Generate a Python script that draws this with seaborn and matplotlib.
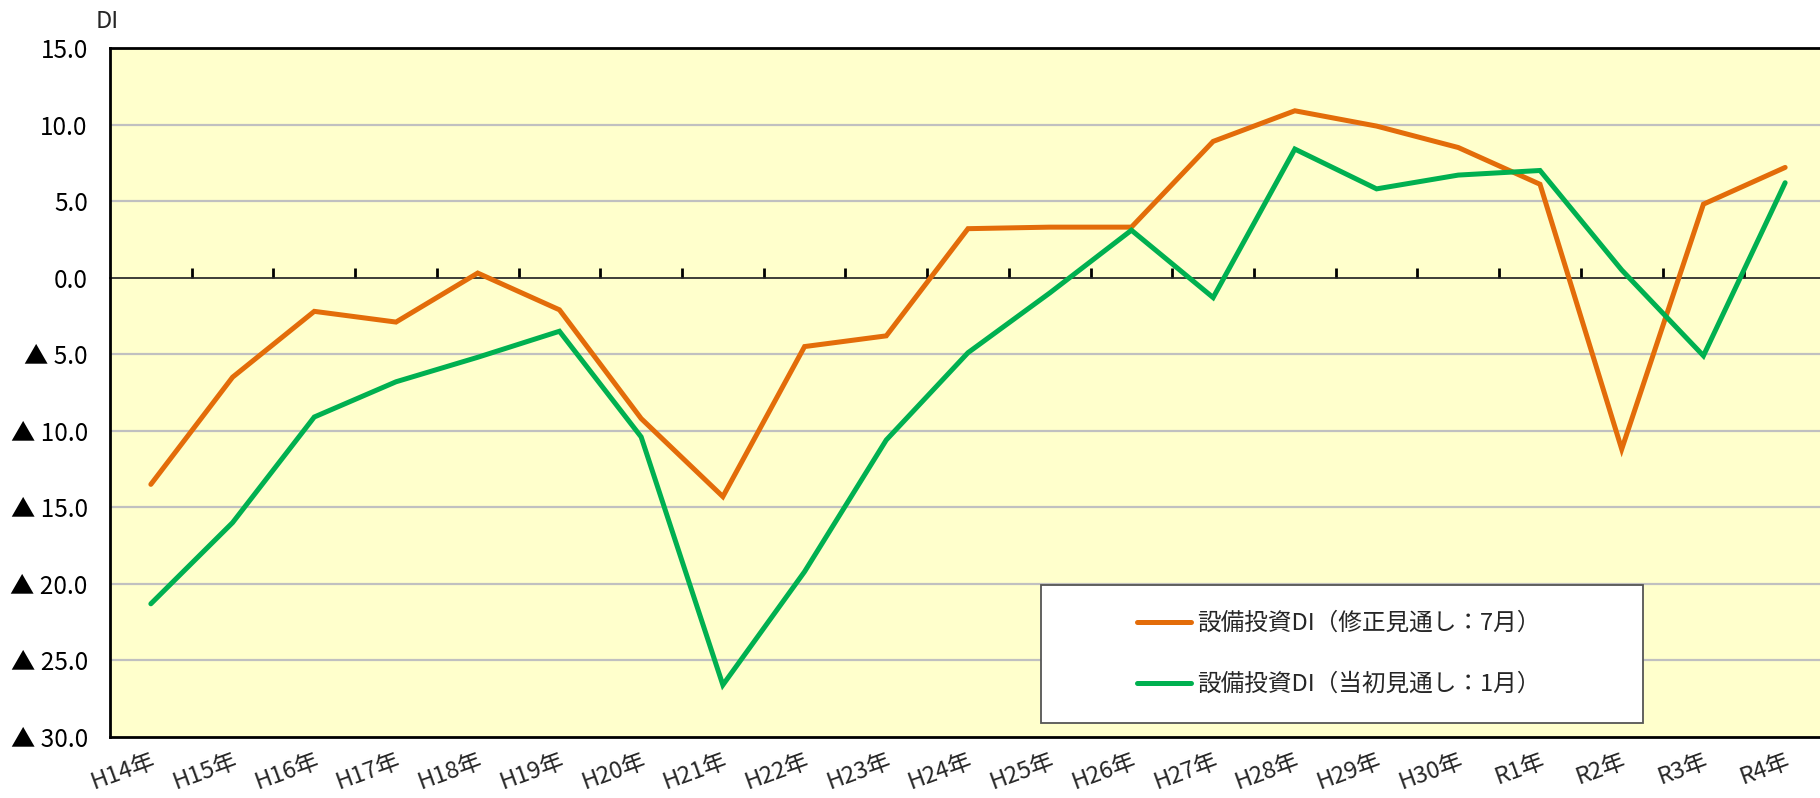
import numpy as np
import pandas as pd
import matplotlib
matplotlib.use("Agg")
import matplotlib.pyplot as plt
from matplotlib.patches import Rectangle
from matplotlib.ticker import FixedLocator, FixedFormatter
import seaborn as sns

# ---- data ----
categories = ["H14年", "H15年", "H16年", "H17年", "H18年", "H19年", "H20年",
              "H21年", "H22年", "H23年", "H24年", "H25年", "H26年", "H27年",
              "H28年", "H29年", "H30年", "R1年", "R2年", "R3年", "R4年"]
revised_july = [-13.5, -6.5, -2.2, -2.9, 0.3, -2.1, -9.2, -14.3, -4.5, -3.8,
                3.2, 3.3, 3.3, 8.9, 10.9, 9.9, 8.5, 6.1, -11.2, 4.8, 7.2]
initial_jan = [-21.3, -16.0, -9.1, -6.8, -5.2, -3.5, -10.4, -26.6, -19.2, -10.6,
               -4.9, -1.0, 3.1, -1.3, 8.4, 5.8, 6.7, 7.0, 0.5, -5.1, 6.2]
series_names = ["設備投資DI（修正見通し：7月）", "設備投資DI（当初見通し：1月）"]
ytick_values = [15, 10, 5, 0, -5, -10, -15, -20, -25, -30]
ytick_labels = ["15.0", "10.0", "5.0", "0.0", "▲ 5.0", "▲ 10.0", "▲ 15.0",
                "▲ 20.0", "▲ 25.0", "▲ 30.0"]
y_unit_label = "DI"

colors = ["#E36C09", "#00B050"]

pos = list(range(len(categories)))
df = pd.concat([
    pd.DataFrame({"pos": pos, "value": revised_july, "series": series_names[0]}),
    pd.DataFrame({"pos": pos, "value": initial_jan, "series": series_names[1]}),
], ignore_index=True)

sns.set_theme(style="white")
plt.rcParams["font.family"] = ["Noto Sans CJK JP", "DejaVu Sans"]

W, H = 1820, 798
fig = plt.figure(figsize=(W / 100, H / 100), dpi=100)
fig.patch.set_facecolor("white")
ax_left, ax_right, ax_top, ax_bottom = 110, 1826, 48, 737
ax = fig.add_axes([ax_left / W, (H - ax_bottom) / H,
                   (ax_right - ax_left) / W, (ax_bottom - ax_top) / H])
ax.set_facecolor("#FFFFCC")

sns.lineplot(data=df, x="pos", y="value", hue="series", palette=colors,
             linewidth=3.6, ax=ax, legend=False, zorder=3,
             solid_capstyle="round", solid_joinstyle="miter")

ax.set_xlim(-0.5, len(categories) - 0.5)
ax.set_ylim(-30, 15)

# y axis
ax.yaxis.set_major_locator(FixedLocator(ytick_values))
ax.yaxis.set_major_formatter(FixedFormatter(ytick_labels))
ax.tick_params(axis="y", length=0, pad=16, labelsize=17.5, labelcolor="black")
for v in ytick_values:
    if v not in (0, 15, -30):
        ax.axhline(v, color="#C0C0C0", lw=1.6, zorder=1)

# x axis labels at the bottom
ax.set_xticks(pos)
ax.set_xticklabels(categories, rotation=20, ha="right", va="top",
                   rotation_mode="anchor", fontsize=17)
ax.tick_params(axis="x", length=0, pad=9)
ax.set_xlabel("")
ax.set_ylabel("")

for s in ["left", "top", "bottom"]:
    ax.spines[s].set_color("black")
    ax.spines[s].set_linewidth(2.0)
ax.spines["right"].set_visible(False)

# zero axis line with boundary tick marks
zero_frac = (0 - (-30)) / (15 - (-30))
sec = ax.secondary_xaxis(zero_frac)
sec.set_xticks([p + 0.5 for p in pos[:-1]])
sec.set_xticklabels([])
sec.tick_params(axis="x", direction="out", length=7, width=2, color="black")
sec.spines["bottom"].set_color("black")
sec.spines["bottom"].set_linewidth(2.0)
sec.spines["bottom"].set_zorder(2)

# unit label
fig.text(96 / W, (H - 22) / H, y_unit_label, fontsize=17, ha="left", va="center")

# legend in a white box
bx0 = (1041 - ax_left) / (ax_right - ax_left)
bx1 = (1643 - ax_left) / (ax_right - ax_left)
by0 = (ax_bottom - 723) / (ax_bottom - ax_top)
by1 = (ax_bottom - 585) / (ax_bottom - ax_top)
ax.add_patch(Rectangle((bx0, by0), bx1 - bx0, by1 - by0, transform=ax.transAxes,
                       facecolor="white", edgecolor="#555555", lw=1.3, zorder=5))
handles = [plt.Line2D([], [], color=c, lw=3.6, solid_capstyle="round") for c in colors]
leg = ax.legend(handles, series_names, loc="center",
                bbox_to_anchor=((bx0 + bx1) / 2 - 0.002, (by0 + by1) / 2),
                frameon=False, fontsize=17, handlelength=2.3, handletextpad=0.25,
                labelspacing=1.6)
leg.set_zorder(6)

fig.savefig("out.png", dpi=100, facecolor="white")
